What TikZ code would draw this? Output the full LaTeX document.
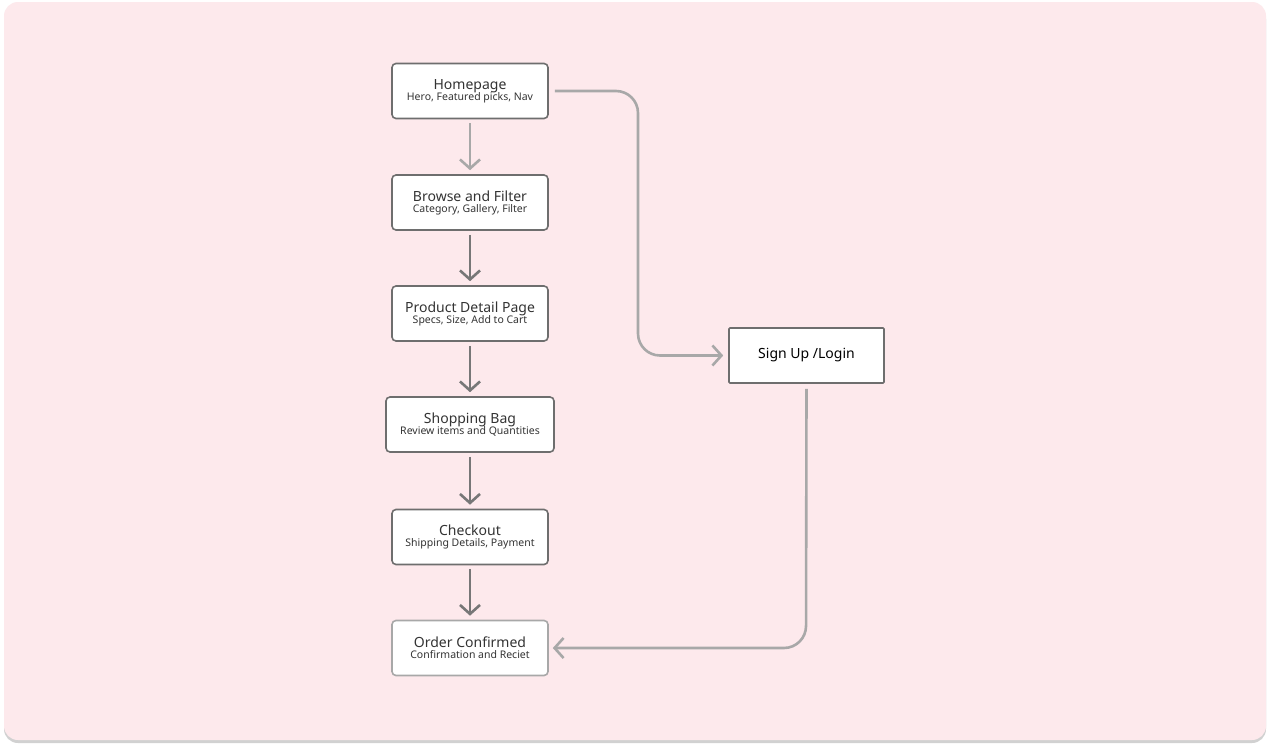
\documentclass[tikz,border=0pt]{standalone}
\usepackage{fontspec}
\setmainfont{Noto Sans}
\usetikzlibrary{arrows.meta}
\definecolor{bg}{HTML}{FDE9EC}
\definecolor{bd}{HTML}{6E6E6E}
\definecolor{lt}{HTML}{A8A8A8}
\definecolor{dk}{HTML}{777777}
\definecolor{tx}{HTML}{333333}
\begin{document}
\begin{tikzpicture}[x=1pt,y=-1pt,
  box/.style={draw=bd,line width=1.6pt,fill=white,rounded corners=4pt,minimum height=55pt,align=center,text=tx,inner sep=2pt},
  ar/.style={line width=2.6pt,-{Straight Barb[length=9pt,width=20pt,line width=2.6pt]}},
  t/.style={font=\fontsize{14}{17}\selectfont},
  s/.style={font=\fontsize{10.5}{13}\selectfont\color{tx!85}}]
\useasboundingbox (0,0) rectangle (1270,747);
\fill[white] (0,0) rectangle (1270,747);
\fill[black!18,rounded corners=14pt] (4,5) rectangle (1266,743);
\fill[bg,rounded corners=14pt] (4,2) rectangle (1266,740);
\node[box,minimum width=156pt] (home) at (470,91) {{\fontsize{14}{17}\selectfont Homepage}\\[-1pt]{\fontsize{10.5}{13}\selectfont Hero, Featured picks, Nav}};
\node[box,minimum width=156pt] (browse) at (470,202.5) {{\fontsize{14}{17}\selectfont Browse and Filter}\\[-1pt]{\fontsize{10.5}{13}\selectfont Category, Gallery, Filter}};
\node[box,minimum width=156pt] (pdp) at (470,313.5) {{\fontsize{14}{17}\selectfont Product Detail Page}\\[-1pt]{\fontsize{10.5}{13}\selectfont Specs, Size, Add to Cart}};
\node[box,minimum width=168pt] (bag) at (470,424.5) {{\fontsize{14}{17}\selectfont Shopping Bag}\\[-1pt]{\fontsize{10.5}{13}\selectfont Review items and Quantities}};
\node[box,minimum width=156pt] (checkout) at (470,537) {{\fontsize{14}{17}\selectfont Checkout}\\[-1pt]{\fontsize{10.5}{13}\selectfont Shipping Details, Payment}};
\node[box,draw=lt,minimum width=156pt] (order) at (470,648) {{\fontsize{14}{17}\selectfont Order Confirmed}\\[-1pt]{\fontsize{10.5}{13}\selectfont Confirmation and Reciet}};
\node[box,rounded corners=1pt,minimum width=155pt,text=black] (sign) at (806.5,355.5) {\fontsize{14}{17}\selectfont Sign Up /Login};
\draw[ar,lt] ([yshift=-4pt]home.south) -- ([yshift=4pt]browse.north);
\draw[ar,dk] ([yshift=-4pt]browse.south) -- ([yshift=4pt]pdp.north);
\draw[ar,dk] ([yshift=-4pt]pdp.south) -- ([yshift=4pt]bag.north);
\draw[ar,dk] ([yshift=-4pt]bag.south) -- ([yshift=4pt]checkout.north);
\draw[ar,dk] ([yshift=-4pt]checkout.south) -- ([yshift=4pt]order.north);
\draw[ar,lt,rounded corners=22pt] ([xshift=6pt]home.east) -- (638,91) -- (638,355.5) -- ([xshift=-5pt]sign.west);
\draw[ar,lt,rounded corners=22pt] ([yshift=-5pt]sign.south) -- (806,648) -- ([xshift=4pt]order.east);
\end{tikzpicture}
\end{document}
